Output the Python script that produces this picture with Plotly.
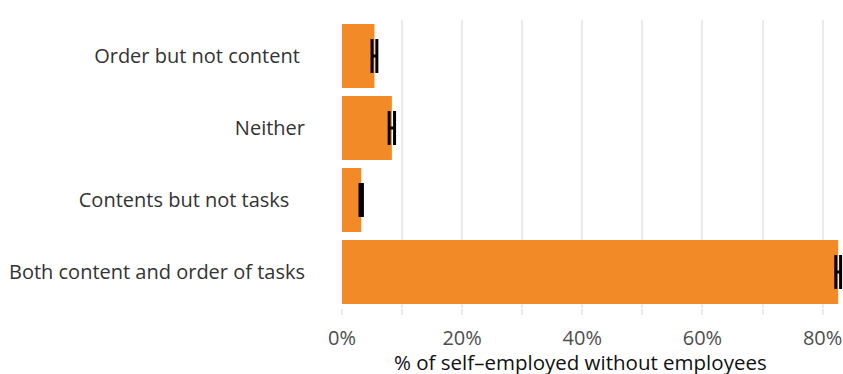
import plotly.graph_objects as go

# Categories listed top to bottom
categories = [
    "Order but not content\u00a0",
    "Neither",
    "Contents but not tasks\u00a0\u00a0\u00a0",
    "Both content and order of tasks",
]
shares = [5.4, 8.3, 3.2, 82.6]          # % of self-employed without employees
errors = [0.4, 0.45, 0.2, 0.4]           # half-width of the interval, percentage points

tick_vals = [0, 10, 20, 30, 40, 50, 60, 70, 80]
tick_text = ["0%", "", "20%", "", "40%", "", "60%", "", "80%"]
x_title = "% of self\u2013employed without employees"

fig = go.Figure(
    go.Bar(
        x=shares,
        y=categories,
        orientation="h",
        width=0.89,
        marker=dict(color="#F28A27", line=dict(width=0)),
        error_x=dict(type="data", array=errors, visible=True,
                     color="black", thickness=3, width=17),
    )
)

fig.update_layout(
    width=843,
    height=374,
    margin=dict(l=342, r=0, t=20, b=66),
    paper_bgcolor="white",
    plot_bgcolor="white",
    showlegend=False,
    font=dict(family="Open Sans", size=20, color="#333333"),
    bargap=0.11,
)

fig.update_xaxes(
    range=[0, 83.4],
    tickvals=tick_vals,
    ticktext=tick_text,
    showgrid=True,
    gridcolor="#EBEBEB",
    gridwidth=2,
    zeroline=False,
    ticks="outside",
    ticklen=6,
    tickwidth=2,
    tickcolor="#EBEBEB",
    ticklabelstandoff=6,
    tickfont=dict(size=20, color="#4D4D4D"),
    showline=False,
)

fig.update_yaxes(
    categoryorder="array",
    categoryarray=categories[::-1],
    showgrid=False,
    ticks="",
    ticklabelstandoff=36,
    tickfont=dict(size=20, color="#333333"),
    showline=False,
)

# Axis title placed as an annotation below the tick labels
fig.add_annotation(
    text=x_title,
    xref="paper", yref="paper",
    x=0.477, y=-0.188,
    xanchor="center", yanchor="middle",
    showarrow=False,
    font=dict(size=20.5, color="#111111"),
)

fig.write_html("out.html")
